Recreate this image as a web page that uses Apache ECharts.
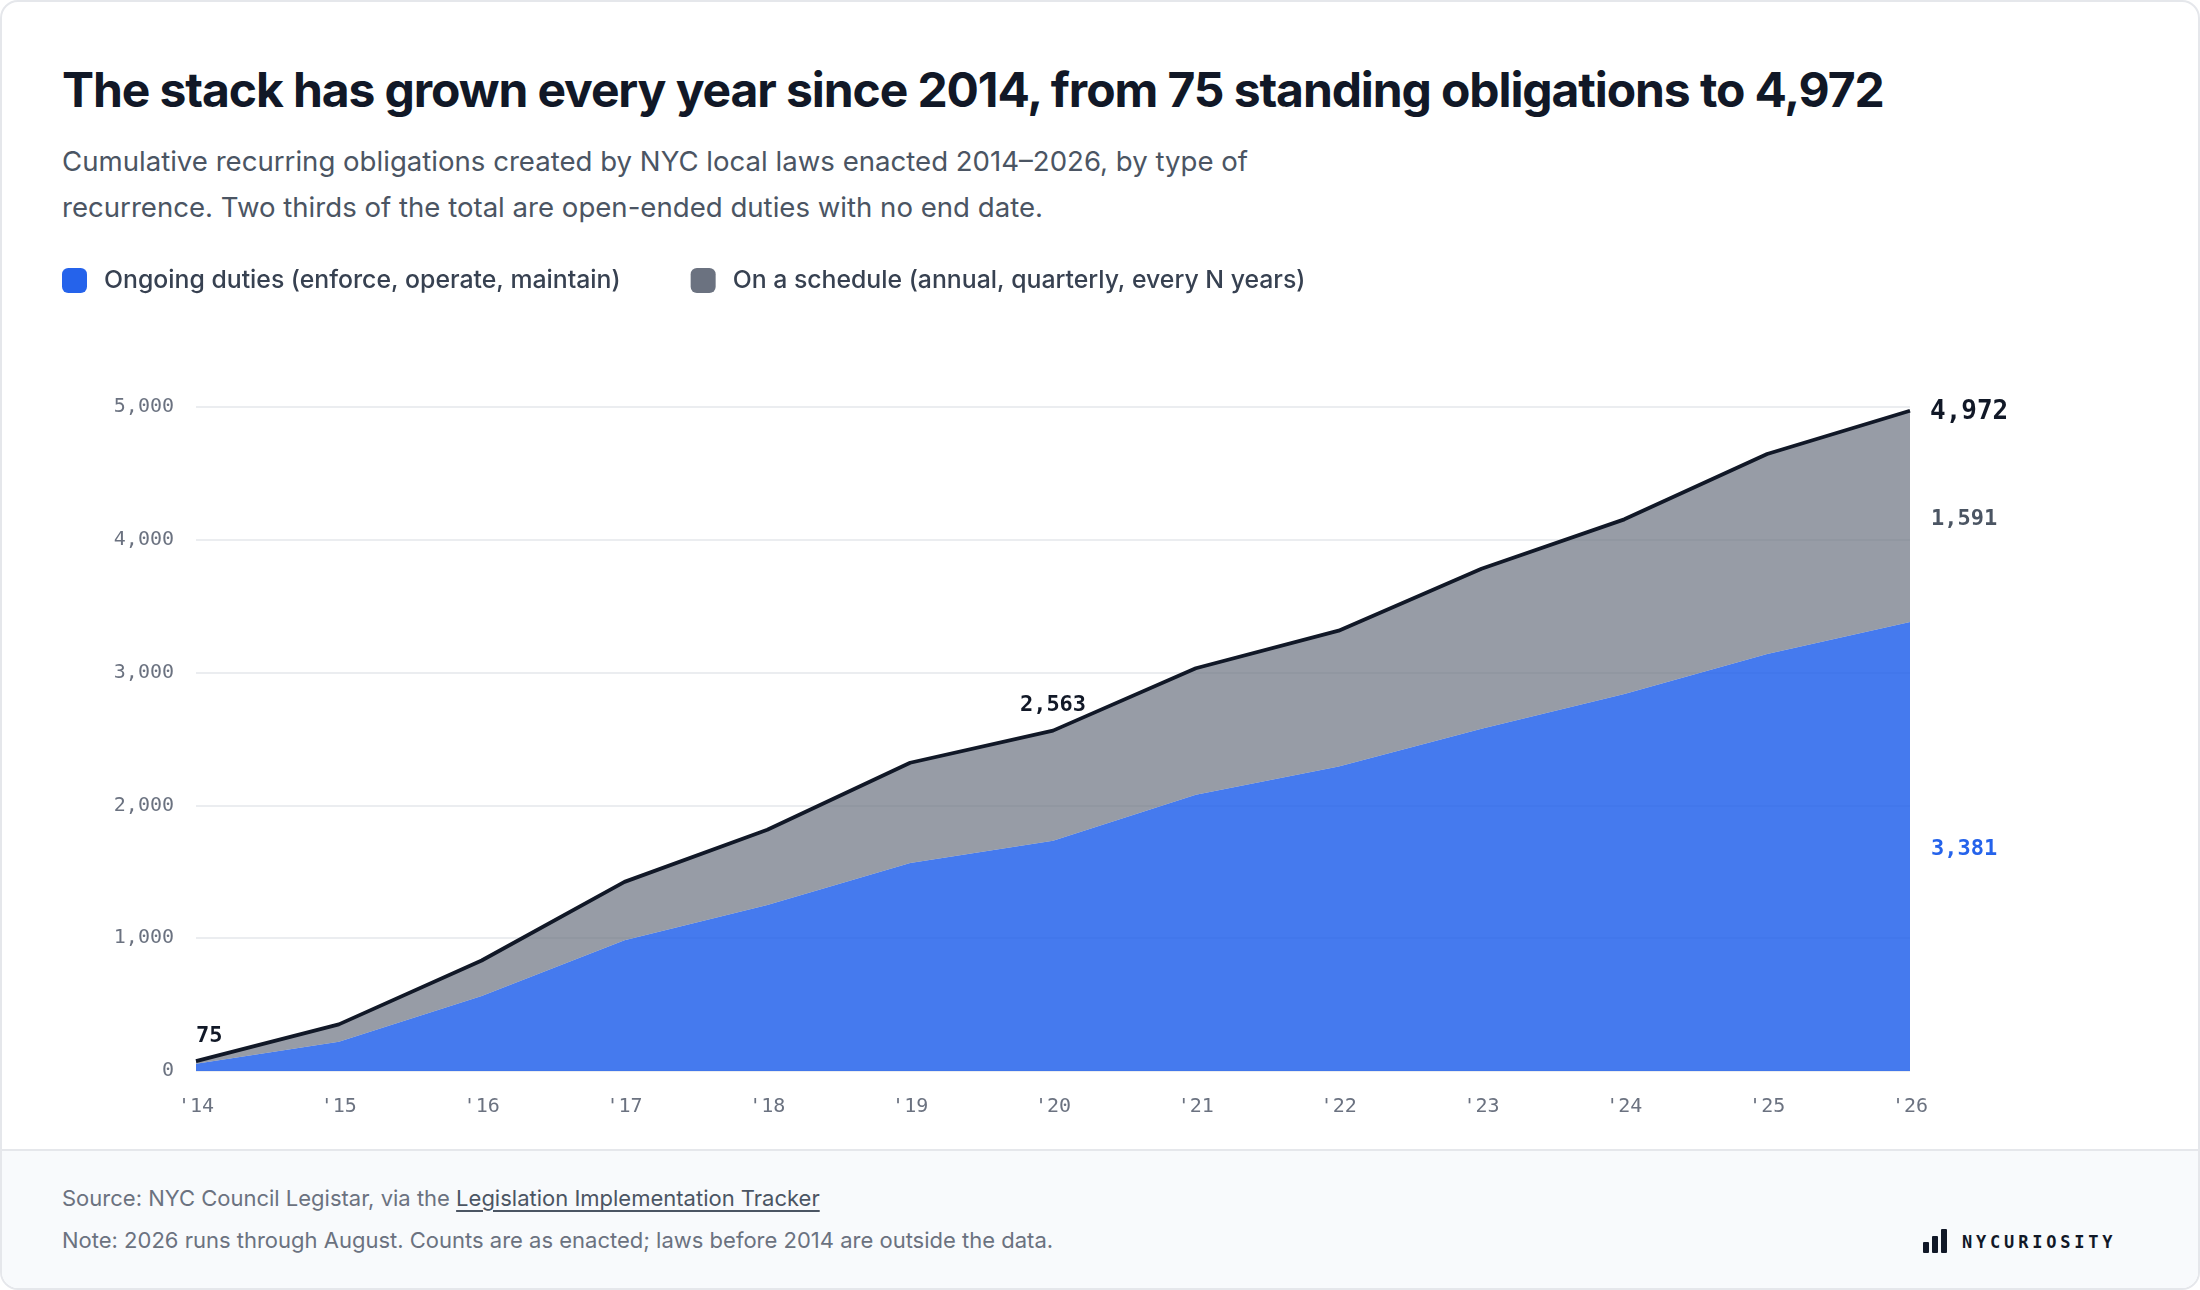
<!DOCTYPE html>
<html>
<head>
<meta charset="utf-8">
<title>Recurring obligations stack</title>
<script src="https://cdn.jsdelivr.net/npm/echarts@6/dist/echarts.min.js"></script>
<style>
    html, body { margin: 0; padding: 0; background: #fff; }
    body { width: 2200px; height: 1290px; position: relative; overflow: hidden; font-family: Inter, "Noto Sans", sans-serif; }
    .card { position: absolute; left: 0; top: 0; width: 2200px; height: 1290px; box-sizing: border-box; border: 2px solid #e5e7eb; border-radius: 18px; background: #fff; overflow: hidden; }
    .title { position: absolute; left: 60px; top: 60px; margin: 0; font-size: 48px; line-height: 56px; font-weight: 700; color: #111827; letter-spacing: -1.1px; white-space: nowrap; }
    .sub { position: absolute; left: 60px; top: 136px; margin: 0; font-size: 27.6px; line-height: 46px; color: #4b5563; }
    .foot { position: absolute; left: 0; right: 0; top: 1147px; bottom: 0; background: #f8fafc; border-top: 2px solid #e5e7eb; }
    .notes { position: absolute; left: 60px; top: 26px; font-size: 22px; line-height: 42px; color: #6b7280; }
    .notes a { color: #4b5563; text-decoration: underline; text-underline-offset: 4px; }
    .logo { position: absolute; left: 1921px; top: 76px; height: 26px; display: flex; align-items: flex-end; }
    .logo i { display: block; width: 6px; background: #111827; margin-right: 3px; border-radius: 1px; }
    .logo span { margin-left: 12px; font-family: "DejaVu Sans Mono", monospace; font-weight: 700; font-size: 17px; letter-spacing: 3.8px; color: #111827; line-height: 22px; }
    #chart { position: absolute; left: 0; top: 0; width: 2200px; height: 1290px; }
</style>
</head>
<body>
<div class="card">
    <h1 class="title">The stack has grown every year since 2014, from 75 standing obligations to 4,972</h1>
    <p class="sub">Cumulative recurring obligations created by NYC local laws enacted 2014–2026, by type of<br>recurrence. Two thirds of the total are open-ended duties with no end date.</p>
    <div class="foot">
        <div class="notes">
            Source: NYC Council Legistar, via the <a href="#">Legislation Implementation Tracker</a><br>
            Note: 2026 runs through August. Counts are as enacted; laws before 2014 are outside the data.
        </div>
        <div class="logo"><i style="height:11px"></i><i style="height:17px"></i><i style="height:24px"></i><span>NYCURIOSITY</span></div>
    </div>
</div>
<div id="chart"></div>
<script>
    // data
    var years = ["'14", "'15", "'16", "'17", "'18", "'19", "'20", "'21", "'22", "'23", "'24", "'25", "'26"];
    var ongoing = [55, 220, 564, 984, 1250, 1566, 1734, 2081, 2292, 2578, 2838, 3141, 3381];
    var schedule = [20, 131, 268, 440, 567, 755, 829, 952, 1024, 1204, 1316, 1505, 1591];
    var total = [75, 351, 832, 1424, 1817, 2321, 2563, 3033, 3316, 3782, 4154, 4646, 4972];
    var labelled = [0, 6];   // points on the total line that get a number

    var mono = '"DejaVu Sans Mono", monospace';
    var last = years.length - 1;

    function fmt(v) {
        return Number(v).toLocaleString('en-US');
    }

    var totalData = total.map(function (v, i) {
        if (labelled.indexOf(i) < 0) return v;
        return {
            value: v,
            label: {
                show: true,
                position: 'top',
                distance: 14,
                align: i === 0 ? 'left' : 'center',
                formatter: fmt(v)
            }
        };
    });

    var chart = echarts.init(document.getElementById('chart'));

    option = {
        animation: false,
        legend: {
            left: 62,
            top: 268,
            padding: 0,
            itemWidth: 25,
            itemHeight: 25,
            itemGap: 70,
            icon: 'roundRect',
            data: ['Ongoing duties (enforce, operate, maintain)', 'On a schedule (annual, quarterly, every N years)'],
            textStyle: {
                fontFamily: 'Inter, "Noto Sans", sans-serif',
                fontSize: 24.8,
                fontWeight: 500,
                color: '#374151',
                padding: [0, 0, 0, 12]
            }
        },
        grid: {
            left: 196,
            right: 290,
            top: 407,
            bottom: 219
        },
        xAxis: {
            type: 'category',
            boundaryGap: false,
            data: years,
            axisLine: { show: false },
            axisTick: { show: false },
            axisLabel: {
                margin: 26,
                fontFamily: mono,
                fontSize: 20,
                color: '#6b7280'
            }
        },
        yAxis: {
            type: 'value',
            min: 0,
            max: 5000,
            interval: 1000,
            axisLine: { show: false },
            axisTick: { show: false },
            splitLine: { lineStyle: { color: '#e5e7eb', width: 1.5 } },
            axisLabel: {
                margin: 22,
                fontFamily: mono,
                fontSize: 20,
                color: '#6b7280',
                formatter: fmt
            }
        },
        series: [
            {
                name: 'Ongoing duties (enforce, operate, maintain)',
                type: 'line',
                stack: 'obligations',
                data: ongoing,
                color: '#2563eb',
                symbol: 'none',
                lineStyle: { width: 0 },
                areaStyle: { color: '#2563eb', opacity: 0.85 },
                markPoint: {
                    symbol: 'circle',
                    symbolSize: 0,
                    label: {
                        show: true,
                        position: 'right',
                        distance: 21,
                        offset: [0, 3],
                        fontFamily: mono,
                        fontSize: 22,
                        fontWeight: 'bold',
                        color: '#2563eb',
                        formatter: function (p) { return fmt(p.value); }
                    },
                    data: [{ coord: [last, ongoing[last] / 2], value: ongoing[last] }]
                }
            },
            {
                name: 'On a schedule (annual, quarterly, every N years)',
                type: 'line',
                stack: 'obligations',
                data: schedule,
                color: '#6b7280',
                symbol: 'none',
                lineStyle: { width: 0 },
                areaStyle: { color: '#6b7280', opacity: 0.7 },
                markPoint: {
                    symbol: 'circle',
                    symbolSize: 0,
                    label: {
                        show: true,
                        position: 'right',
                        distance: 21,
                        offset: [0, 3],
                        fontFamily: mono,
                        fontSize: 22,
                        fontWeight: 'bold',
                        color: '#4b5563',
                        formatter: function (p) { return fmt(p.value); }
                    },
                    data: [{ coord: [last, ongoing[last] + schedule[last] / 2], value: schedule[last] }]
                }
            },
            {
                name: 'Total',
                type: 'line',
                data: totalData,
                z: 5,
                symbol: 'circle',
                symbolSize: 0,
                showSymbol: true,
                color: '#111827',
                lineStyle: { color: '#111827', width: 3.8 },
                label: {
                    show: false,
                    fontFamily: mono,
                    fontSize: 22,
                    fontWeight: 'bold',
                    color: '#111827'
                },
                endLabel: {
                    show: true,
                    distance: 20,
                    offset: [0, 2],
                    fontFamily: mono,
                    fontSize: 26,
                    fontWeight: 'bold',
                    color: '#111827',
                    formatter: function (p) { return fmt(p.value); }
                }
            }
        ]
    };

    chart.setOption(option);
</script>
</body>
</html>
